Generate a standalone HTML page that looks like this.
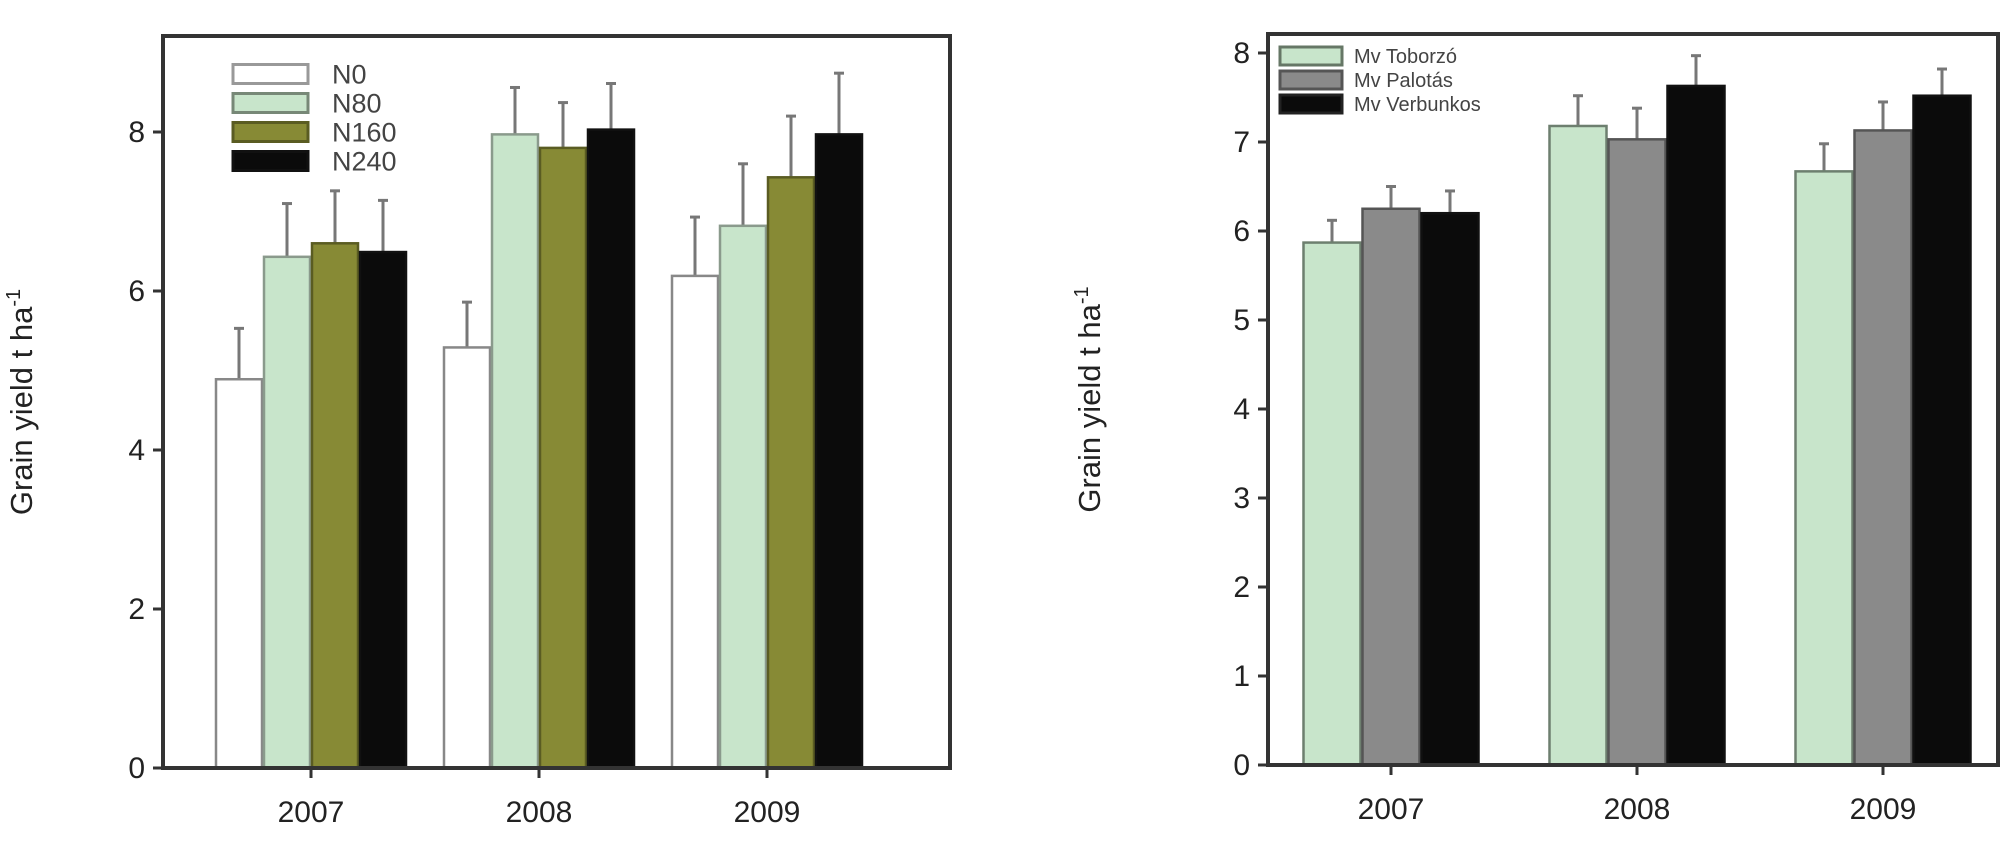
<!DOCTYPE html>
<html><head><meta charset="utf-8"><style>
body{margin:0;background:#fff;width:2005px;height:843px;overflow:hidden}
svg{display:block;font-family:"Liberation Sans",sans-serif}
</style></head><body>
<svg id="s" width="2005" height="843"></svg>
<script>
const yearsL = ["2007","2008","2009"];
const seriesL = ["N0","N80","N160","N240"];
const valN0 = [4.89,5.29,6.19];
const valN80 = [6.43,7.97,6.82];
const valN160 = [6.6,7.8,7.43];
const valN240 = [6.49,8.03,7.97];
const errN0 = [0.64,0.57,0.74];
const errN80 = [0.67,0.59,0.78];
const errN160 = [0.66,0.57,0.77];
const errN240 = [0.65,0.58,0.77];
const ticksL = [0,2,4,6,8];

const yearsR = ["2007","2008","2009"];
const seriesR = ["Mv Toborzó","Mv Palotás","Mv Verbunkos"];
const valTob = [5.87,7.18,6.67];
const valPal = [6.25,7.03,7.13];
const valVer = [6.2,7.63,7.52];
const errTob = [0.25,0.34,0.31];
const errPal = [0.25,0.35,0.32];
const errVer = [0.25,0.34,0.3];
const ticksR = [0,1,2,3,4,5,6,7,8];

const NS="http://www.w3.org/2000/svg";
const svg=document.getElementById('s');
function mk(t,a,p){const e=document.createElementNS(NS,t);for(const k in a)e.setAttribute(k,a[k]);(p||svg).appendChild(e);return e;}

function chart(o){
  const g=mk('g',{});
  
  
  const y=v=>o.y0-(v-0)*o.unit;
  const xc=i=>o.c0+o.sp*i;
  o.vals.forEach((arr,s)=>{
    arr.forEach((v,i)=>{
      const x=xc(i)-o.bw*o.vals.length/2+s*o.bw;
      const e=o.errs[s][i];
      const eb=mk('line',{x1:x+o.bw/2,x2:x+o.bw/2,y1:y(v),y2:y(v+e),stroke:'#777','stroke-width':3},g);
      
      
      const cap=mk('line',{x1:x+o.bw/2-5,x2:x+o.bw/2+5,y1:y(v+e),y2:y(v+e),stroke:'#777','stroke-width':3},g);
      
      
      const r=mk('rect',{x:x+1,y:y(v),width:o.bw-2,height:o.y0-y(v),fill:o.fills[s],stroke:o.strokes[s],'stroke-width':2.5},g);
      
      
    });
  });
  const f=mk('rect',{x:o.x0,y:o.top,width:o.x1-o.x0,height:o.y0-o.top,fill:'none',stroke:'#333','stroke-width':4},g);
  
  
  o.ticks.forEach(t=>{
    mk('line',{x1:o.x0-10,x2:o.x0,y1:y(t),y2:y(t),stroke:'#333','stroke-width':3},g);
    const tx=mk('text',{x:o.x0-18,y:y(t)+10,'text-anchor':'end','font-size':30,fill:'#222'},g);
    tx.textContent=t;
    
    
  });
  o.cats.forEach((c,i)=>{
    mk('line',{x1:xc(i),x2:xc(i),y1:o.y0,y2:o.y0+10,stroke:'#333','stroke-width':3},g);
    const tx=mk('text',{x:xc(i),y:o.y0+54,'text-anchor':'middle','font-size':30,fill:'#222'},g);
    tx.textContent=c;
    
    
  });
  const t=mk('text',{x:0,y:0,transform:`translate(${o.tx},${(o.top+o.y0)/2}) rotate(-90)`,'text-anchor':'middle','font-size':31,fill:'#222'},g);
  t.innerHTML='Grain yield t ha<tspan dy="-12" font-size="20">-1</tspan>';
  
  
  o.series.forEach((s,k)=>{
    const ly=o.ly+k*o.lsp;
    const r=mk('rect',{x:o.lx,y:ly-o.lh/2,width:o.lw,height:o.lh,fill:o.fills[k],stroke:o.lstrokes[k],'stroke-width':3},g);
    
    
    const tx=mk('text',{x:o.lx+o.lw+o.lgap,y:ly+o.lfs*0.36,'font-size':o.lfs,fill:'#444'},g);
    tx.textContent=s;
    
    
  });
}
chart({name:'left-chart',x0:163,x1:950,top:36,y0:768,unit:79.5,c0:311,sp:228,bw:48,
  cats:yearsL,series:seriesL,vals:[valN0,valN80,valN160,valN240],errs:[errN0,errN80,errN160,errN240],
  fills:['#ffffff','#c8e5cb','#878a35','#0b0b0b'],strokes:['#888','#8a9a8c','#5a5c22','#111'],
  lstrokes:['#999','#778877','#5a5c22','#111'],
  ticks:ticksL,tx:32,lx:233,ly:74,lsp:29,lw:75,lh:19,lfs:27,lgap:24});
chart({name:'right-chart',x0:1268,x1:1998,top:34,y0:765,unit:89,c0:1391,sp:246,bw:59,
  cats:yearsR,series:seriesR,vals:[valTob,valPal,valVer],errs:[errTob,errPal,errVer],
  fills:['#c8e5cb','#8a8a8a','#0b0b0b'],strokes:['#6d7f6f','#555','#111'],
  lstrokes:['#667766','#555','#222'],
  ticks:ticksR,tx:1100,lx:1280,ly:56,lsp:24,lw:62,lh:18,lfs:20,lgap:12});
</script>
</body></html>
